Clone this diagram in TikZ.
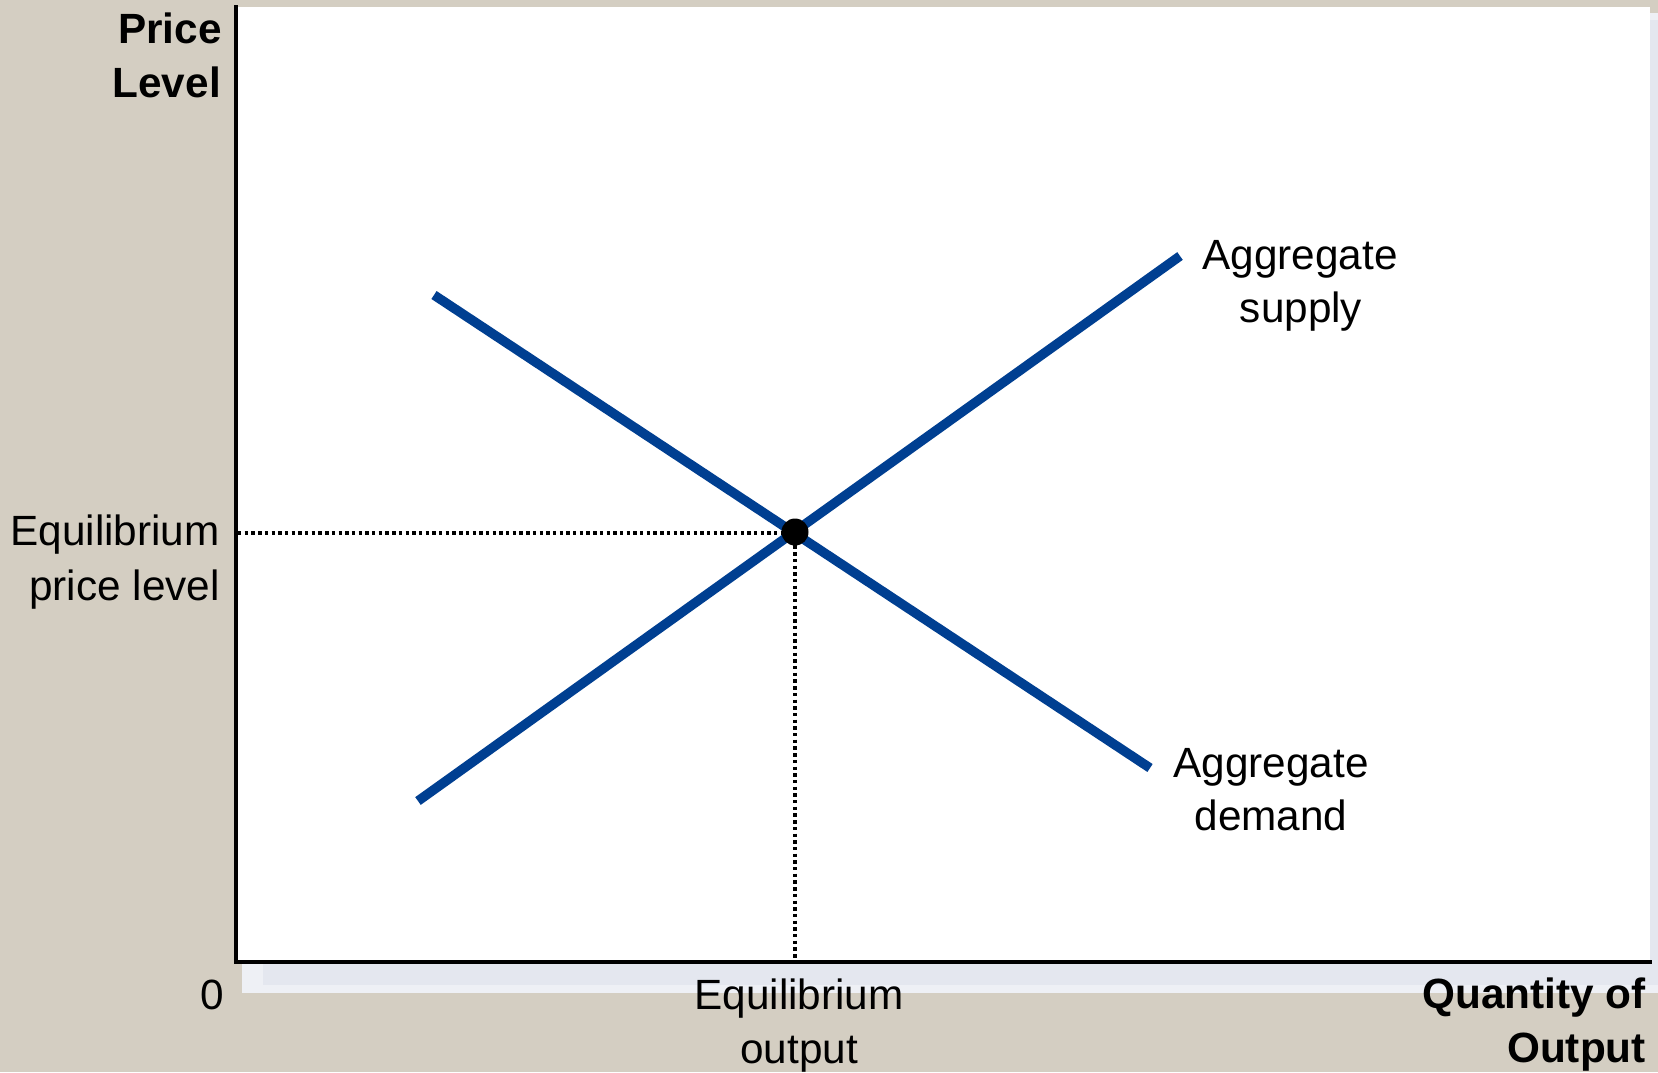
\documentclass[tikz,border=0pt]{standalone}
\usepackage{fontspec}
\setmainfont{Liberation Sans}
\definecolor{bgbeige}{RGB}{212,206,194}
\definecolor{curveblue}{RGB}{0,63,145}
\definecolor{shadowout}{RGB}{238,240,245}
\definecolor{shadowin}{RGB}{228,231,239}
\tikzset{
  lbl/.style={inner sep=0pt, font=\fontsize{42.3}{50}\selectfont},
  axtitle/.style={lbl, font=\fontsize{42.3}{50}\selectfont\bfseries},
  curve/.style={line width=9.5pt, color=curveblue, line cap=butt},
  guide/.style={line width=3.4pt, dash pattern=on 3.4pt off 3.3pt},
  axisline/.style={line width=4pt, line cap=rect}
}
\begin{document}
\begin{tikzpicture}[x=1pt,y=-1pt]
\useasboundingbox (0,0) rectangle (1658,1072);
\fill[bgbeige] (0,0) rectangle (1658,1072);
% shadow
\fill[shadowout] (242,13) rectangle (1658,993);
\fill[shadowin] (263,20) rectangle (1658,985);
% plot area
\fill[white] (236,7) rectangle (1650,962);
% guides
\coordinate (eq) at (795,532);
\coordinate (yaxP) at (238,533);
\coordinate (eqL) at (795,533);
\coordinate (xaxQ) at (795,960);
\draw[guide] (yaxP) -- (eqL);
\draw[guide] (eq) -- (xaxQ);
% curves
\coordinate (adA) at (434,295);
\coordinate (adB) at (1150,768);
\coordinate (asA) at (418,801);
\coordinate (asB) at (1180,256);
\draw[curve] (adA) -- (adB);
\draw[curve] (asA) -- (asB);
\fill[black] (eq) circle (13.5);
% axes
\coordinate (origin) at (236,962);
\coordinate (ytop) at (236,7);
\coordinate (xend) at (1650,962);
\draw[axisline] (ytop) -- (origin) -- (xend);
% labels
\node[axtitle, anchor=base east] (price) at (222,43) {Price};
\node[axtitle, anchor=base east] (level) at (221,97) {Level};
\node[lbl, anchor=base east] (eqp1) at (220,545) {Equilibrium};
\node[lbl, anchor=base east] (eqp2) at (220,600) {price level};
\node[lbl, anchor=base] (as1) at (1300,269) {Aggregate};
\node[lbl, anchor=base] (as2) at (1301,322) {supply};
\node[lbl, anchor=base] (ad1) at (1271,777) {Aggregate};
\node[lbl, anchor=base] (ad2) at (1271,830) {demand};
\node[lbl, anchor=base] (zero) at (212,1009) {0};
\node[lbl, anchor=base] (eqo1) at (799,1009) {Equilibrium};
\node[lbl, anchor=base] (eqo2) at (799,1063) {output};
\node[axtitle, anchor=base east] (qty1) at (1646,1008) {Quantity of};
\node[axtitle, anchor=base east] (qty2) at (1646,1062) {Output};
\end{tikzpicture}
\end{document}
